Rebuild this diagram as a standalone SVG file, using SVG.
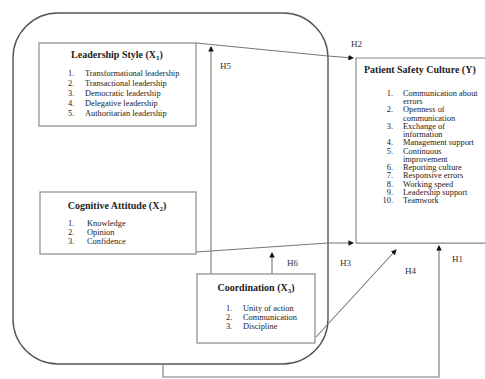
<svg xmlns="http://www.w3.org/2000/svg" width="485" height="379" viewBox="0 0 485 379">
<defs>
<style>
.frame{fill:none;stroke:#555;stroke-width:1.4}
.box{fill:#fff;stroke:#8a8a8a;stroke-width:1.2}
.ln{fill:none;stroke:#777;stroke-width:1.1}
.t{font-family:"Liberation Serif","Times New Roman",serif;fill:#222}
.title{font-size:10px;font-weight:bold}
.item{font-size:8.4px}
.lbl{font-size:9px;fill:#333}
</style>
<marker id="ah" viewBox="0 0 6 6" refX="5" refY="3" markerWidth="5" markerHeight="5" orient="auto">
<path d="M0,0 L6,3 L0,6 z" fill="#111"/>
</marker>
</defs>
<rect width="485" height="379" fill="#fff"/>
<rect class="frame" x="13" y="13" width="315" height="351" rx="45" ry="45"/>

<g id="connectors">
<path class="ln" d="M196,43 L328,56 L353,58" marker-end="url(#ah)"/>
<path class="ln" d="M196,252 L328,243 L353,243" marker-end="url(#ah)"/>
<line class="ln" x1="356" y1="243" x2="485" y2="243"/>
<path class="ln" d="M211,274 L211,47" marker-end="url(#ah)"/>
<path class="ln" d="M272,274 L272,253" marker-end="url(#ah)"/>
<path class="ln" d="M316,337 L396,250" marker-end="url(#ah)"/>
<path class="ln" d="M163,364 L163,377 L439,377 L439,246" marker-end="url(#ah)"/>
<text class="t lbl" x="351" y="47">H2</text>
<text class="t lbl" x="220" y="69">H5</text>
<text class="t lbl" x="287" y="266">H6</text>
<text class="t lbl" x="340" y="266">H3</text>
<text class="t lbl" x="405" y="274">H4</text>
<text class="t lbl" x="452" y="262">H1</text>
</g>

<g id="leadership">
<rect class="box" x="39" y="43" width="157" height="83"/>
<text class="t title" x="117" y="58" text-anchor="middle">Leadership Style (X<tspan font-size="7" dy="2">1</tspan><tspan dy="-2">)</tspan></text>
<g class="t item">
<text x="68" y="76">1.</text><text x="85" y="76">Transformational leadership</text>
<text x="68" y="86">2.</text><text x="85" y="86">Transactional leadership</text>
<text x="68" y="96">3.</text><text x="85" y="96">Democratic leadership</text>
<text x="68" y="106">4.</text><text x="85" y="106">Delegative leadership</text>
<text x="68" y="116">5.</text><text x="85" y="116">Authoritarian leadership</text>
</g>
</g>

<g id="cognitive">
<rect class="box" x="40" y="192" width="156" height="62"/>
<text class="t title" x="117" y="209" text-anchor="middle">Cognitive Attitude (X<tspan font-size="7" dy="2">2</tspan><tspan dy="-2">)</tspan></text>
<g class="t item">
<text x="68" y="226">1.</text><text x="87" y="226">Knowledge</text>
<text x="68" y="235">2.</text><text x="87" y="235">Opinion</text>
<text x="68" y="244">3.</text><text x="87" y="244">Confidence</text>
</g>
</g>

<g id="coordination">
<rect class="box" x="197" y="274" width="118" height="69"/>
<text class="t title" x="256" y="291" text-anchor="middle">Coordination (X<tspan font-size="7" dy="2">3</tspan><tspan dy="-2">)</tspan></text>
<g class="t item">
<text x="226" y="311">1.</text><text x="243" y="311">Unity of action</text>
<text x="226" y="320">2.</text><text x="243" y="320">Communication</text>
<text x="226" y="329">3.</text><text x="243" y="329">Discipline</text>
</g>
</g>

<g id="safety">
<path class="box" d="M486,58 L356,58 L356,243 L486,243"/>
<text class="t title" x="364" y="73">Patient Safety Culture (Y)</text>
<g class="t item">
<text x="393" y="96" text-anchor="end">1.</text><text x="403" y="96">Communication about</text>
<text x="403" y="104">errors</text>
<text x="393" y="112" text-anchor="end">2.</text><text x="403" y="112">Openness of</text>
<text x="403" y="121">communication</text>
<text x="393" y="129" text-anchor="end">3.</text><text x="403" y="129">Exchange of</text>
<text x="403" y="137">information</text>
<text x="393" y="145" text-anchor="end">4.</text><text x="403" y="145">Management support</text>
<text x="393" y="154" text-anchor="end">5.</text><text x="403" y="154">Continuous</text>
<text x="403" y="162">improvement</text>
<text x="393" y="170" text-anchor="end">6.</text><text x="403" y="170">Reporting culture</text>
<text x="393" y="178" text-anchor="end">7.</text><text x="403" y="178">Responsive errors</text>
<text x="393" y="187" text-anchor="end">8.</text><text x="403" y="187">Working speed</text>
<text x="393" y="195" text-anchor="end">9.</text><text x="403" y="195">Leadership support</text>
<text x="393" y="203" text-anchor="end">10.</text><text x="403" y="203">Teamwork</text>
</g>
</g>
</svg>
